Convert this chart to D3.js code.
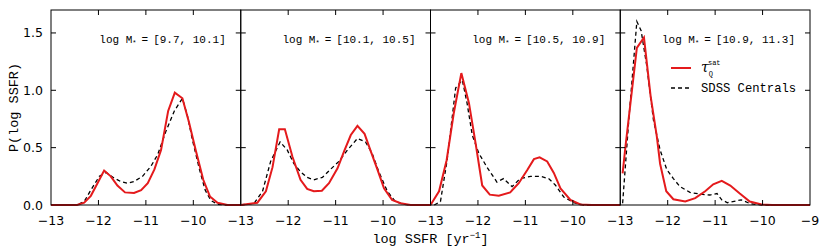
<!DOCTYPE html>
<html>
<head>
<meta charset="utf-8">
<script src="https://cdn.jsdelivr.net/npm/d3@7"></script>
<style>
  body { margin: 0; background: #fff; }
  svg { display: block; }
  .tick-lbl { font-family: "DejaVu Sans", sans-serif; font-size: 12.5px; fill: #000; }
  .tt { font-family: "Liberation Mono", monospace; fill: #000; }
</style>
</head>
<body>
<div id="chart"></div>
<script>
// stellar mass bins (one panel each)
const massBins = ["[9.7, 10.1]", "[10.1, 10.5]", "[10.5, 10.9]", "[10.9, 11.3]"];
const xTicks = [-13, -12, -11, -10, -9];
const yTicks = [0.0, 0.5, 1.0, 1.5];

// tau_Q^sat model, [log SSFR, P]
const tauQ1 = [[-13,0],[-12.45,0],[-12.30,0.02],[-12.16,0.08],[-12.02,0.19],[-11.88,0.30],[-11.74,0.25],[-11.60,0.17],[-11.44,0.11],[-11.25,0.105],[-11.10,0.13],[-10.96,0.19],[-10.82,0.31],[-10.68,0.48],[-10.53,0.82],[-10.39,0.98],[-10.23,0.93],[-10.09,0.72],[-9.95,0.48],[-9.79,0.22],[-9.65,0.075],[-9.49,0.02],[-9.28,0],[-9,0]];
const tauQ2 = [[-13,0],[-12.65,0.02],[-12.47,0.12],[-12.33,0.33],[-12.19,0.66],[-12.07,0.66],[-11.91,0.42],[-11.74,0.22],[-11.60,0.14],[-11.46,0.12],[-11.29,0.125],[-11.14,0.19],[-10.96,0.32],[-10.82,0.47],[-10.68,0.61],[-10.54,0.69],[-10.39,0.62],[-10.26,0.47],[-10.12,0.31],[-9.98,0.145],[-9.81,0.045],[-9.63,0.015],[-9.42,0],[-9,0]];
const tauQ3 = [[-13,0],[-12.82,0.12],[-12.66,0.39],[-12.51,0.80],[-12.35,1.15],[-12.19,0.89],[-12.05,0.54],[-11.91,0.17],[-11.75,0.09],[-11.56,0.08],[-11.32,0.11],[-11.14,0.19],[-10.96,0.305],[-10.82,0.40],[-10.70,0.415],[-10.54,0.38],[-10.40,0.28],[-10.26,0.145],[-10.05,0.045],[-9.84,0.005],[-9.6,0],[-9,0]];
const tauQ4 = [[-12.95,0.276],[-12.89,0.51],[-12.65,1.37],[-12.50,1.46],[-12.36,0.95],[-12.23,0.60],[-12.16,0.36],[-12.03,0.12],[-11.88,0.05],[-11.63,0.03],[-11.42,0.06],[-11.21,0.12],[-11.04,0.18],[-10.86,0.21],[-10.68,0.17],[-10.48,0.10],[-10.27,0.03],[-10.02,0.005],[-9.8,0],[-9,0]];

// SDSS centrals
const sdss1 = [[-13,0],[-12.45,0],[-12.30,0.03],[-12.16,0.13],[-11.98,0.25],[-11.84,0.285],[-11.67,0.235],[-11.53,0.205],[-11.39,0.19],[-11.25,0.205],[-11.07,0.25],[-10.89,0.34],[-10.75,0.44],[-10.58,0.64],[-10.40,0.82],[-10.23,0.93],[-10.12,0.77],[-10.02,0.57],[-9.87,0.31],[-9.75,0.13],[-9.63,0.04],[-9.49,0.005],[-9.3,0],[-9,0]];
const sdss2 = [[-13,0],[-12.72,0.015],[-12.54,0.12],[-12.37,0.38],[-12.17,0.55],[-12.02,0.48],[-11.88,0.36],[-11.74,0.29],[-11.60,0.24],[-11.46,0.22],[-11.28,0.24],[-11.11,0.31],[-10.93,0.38],[-10.75,0.48],[-10.54,0.58],[-10.37,0.55],[-10.23,0.45],[-10.09,0.29],[-9.91,0.12],[-9.74,0.03],[-9.56,0.005],[-9.4,0],[-9,0]];
const sdss3 = [[-12.92,0],[-12.79,0.03],[-12.65,0.39],[-12.47,1.02],[-12.33,1.09],[-12.23,0.89],[-12.12,0.61],[-11.98,0.45],[-11.81,0.33],[-11.60,0.20],[-11.46,0.23],[-11.28,0.16],[-11.11,0.23],[-10.89,0.25],[-10.68,0.25],[-10.51,0.23],[-10.37,0.175],[-10.19,0.07],[-9.98,0.02],[-9.77,0],[-9,0]];
const sdss4 = [[-12.95,0.015],[-12.82,0.74],[-12.65,1.60],[-12.56,1.52],[-12.44,1.21],[-12.30,0.74],[-12.16,0.48],[-12.02,0.31],[-11.88,0.23],[-11.74,0.16],[-11.53,0.11],[-11.32,0.095],[-11.11,0.087],[-10.96,0.10],[-10.86,0.045],[-10.74,0.02],[-10.45,0.045],[-10.25,0.01],[-10.0,0],[-9,0]];

const model = [tauQ1, tauQ2, tauQ3, tauQ4];
const sdss = [sdss1, sdss2, sdss3, sdss4];

const W = 830, H = 251;
const margin = { left: 51, top: 10, right: 20, bottom: 46 };
const panelW = (W - margin.left - margin.right) / 4;
const red = "#e41a1c";

const svg = d3.select("#chart").append("svg")
  .attr("width", W).attr("height", H);

const y = d3.scaleLinear().domain([0, 1.7]).range([H - margin.bottom, margin.top]);
const tickLen = 5;

massBins.forEach((mb, i) => {
  const x0 = margin.left + i * panelW;
  const x = d3.scaleLinear().domain([-13, -9]).range([x0, x0 + panelW]);
  const g = svg.append("g");

  const line = d3.line().x(d => x(d[0])).y(d => y(d[1]));

  g.append("path").datum(sdss[i])
    .attr("d", line).attr("fill", "none")
    .attr("stroke", "#000").attr("stroke-width", 1.3)
    .attr("stroke-dasharray", "4,3");

  g.append("path").datum(model[i])
    .attr("d", line).attr("fill", "none")
    .attr("stroke", red).attr("stroke-width", 2)
    .attr("stroke-linejoin", "miter");

  // frame
  g.append("rect")
    .attr("x", x(-13)).attr("y", y(1.7))
    .attr("width", x(-9) - x(-13)).attr("height", y(0) - y(1.7))
    .attr("fill", "none").attr("stroke", "#000").attr("stroke-width", 1);

  // inward ticks on all sides
  const xt = xTicks.slice(1, -1);
  g.selectAll(".xb").data(xt).enter().append("line")
    .attr("x1", d => x(d)).attr("x2", d => x(d))
    .attr("y1", y(0)).attr("y2", y(0) - tickLen)
    .attr("stroke", "#000");
  g.selectAll(".xt").data(xt).enter().append("line")
    .attr("x1", d => x(d)).attr("x2", d => x(d))
    .attr("y1", y(1.7)).attr("y2", y(1.7) + tickLen)
    .attr("stroke", "#000");
  const yt = yTicks.slice(1);
  g.selectAll(".yl").data(yt).enter().append("line")
    .attr("x1", x(-13)).attr("x2", x(-13) + tickLen)
    .attr("y1", d => y(d)).attr("y2", d => y(d))
    .attr("stroke", "#000");
  g.selectAll(".yr").data(yt).enter().append("line")
    .attr("x1", x(-9)).attr("x2", x(-9) - tickLen)
    .attr("y1", d => y(d)).attr("y2", d => y(d))
    .attr("stroke", "#000");

  // x tick labels (last panel also gets -9)
  const labs = i === 3 ? xTicks : xTicks.slice(0, -1);
  g.selectAll(".xl").data(labs).enter().append("text")
    .attr("class", "tick-lbl")
    .attr("x", d => x(d)).attr("y", y(0) + 20)
    .attr("text-anchor", "middle")
    .text(d => d3.format("d")(d).replace("-", "\u2212"));

  if (i === 0) {
    g.selectAll(".ylab").data(yTicks).enter().append("text")
      .attr("class", "tick-lbl")
      .attr("x", x0 - 8).attr("y", d => y(d) + 4.5)
      .attr("text-anchor", "end")
      .text(d => d3.format(".1f")(d));
  }

  // mass bin annotation
  const t = g.append("text").attr("class", "tt")
    .attr("x", x(-9) - 15).attr("y", 43)
    .attr("text-anchor", "end").style("font-size", "11px");
  t.append("tspan").text("log M");
  t.append("tspan").attr("dy", 2).style("font-size", "7px").text("*");
  t.append("tspan").attr("dx", 5).attr("dy", -2).text("=");
  t.append("tspan").attr("dx", 5).text(mb);

  // legend in last panel
  if (i === 3) {
    const lx = x(-11.93), ly1 = 68, ly2 = 88;
    g.append("line").attr("x1", lx).attr("x2", lx + 20)
      .attr("y1", ly1).attr("y2", ly1)
      .attr("stroke", red).attr("stroke-width", 2);
    g.append("line").attr("x1", lx).attr("x2", lx + 20)
      .attr("y1", ly2).attr("y2", ly2)
      .attr("stroke", "#000").attr("stroke-width", 1.3)
      .attr("stroke-dasharray", "4,3");
    const lt = g.append("text").attr("class", "tt")
      .attr("x", lx + 30).attr("y", ly1 + 4)
      .style("font-size", "14px");
    lt.append("tspan").style("font-family", "'DejaVu Serif', serif")
      .style("font-style", "italic").text("\u03c4");
    lt.append("tspan").attr("dy", 4).style("font-size", "7px").text("Q");
    lt.append("tspan").attr("dx", -5).attr("dy", -11).style("font-size", "7px").text("sat");
    g.append("text").attr("class", "tt")
      .attr("x", lx + 30).attr("y", ly2 + 4)
      .style("font-size", "12.2px").text("SDSS Centrals");
  }
});

// axis titles
svg.append("text").attr("class", "tt")
  .attr("transform", `translate(18,${(y(0) + y(1.7)) / 2}) rotate(-90)`)
  .attr("text-anchor", "middle").style("font-size", "13.5px")
  .text("P(log SSFR)");

const xl = svg.append("text").attr("class", "tt")
  .attr("x", margin.left + 2 * panelW).attr("y", 243)
  .attr("text-anchor", "middle").style("font-size", "13.5px");
xl.append("tspan").text("log SSFR [yr");
xl.append("tspan").attr("dy", -5).style("font-size", "9px").text("\u22121");
xl.append("tspan").attr("dy", 5).text("]");
</script>
</body>
</html>
